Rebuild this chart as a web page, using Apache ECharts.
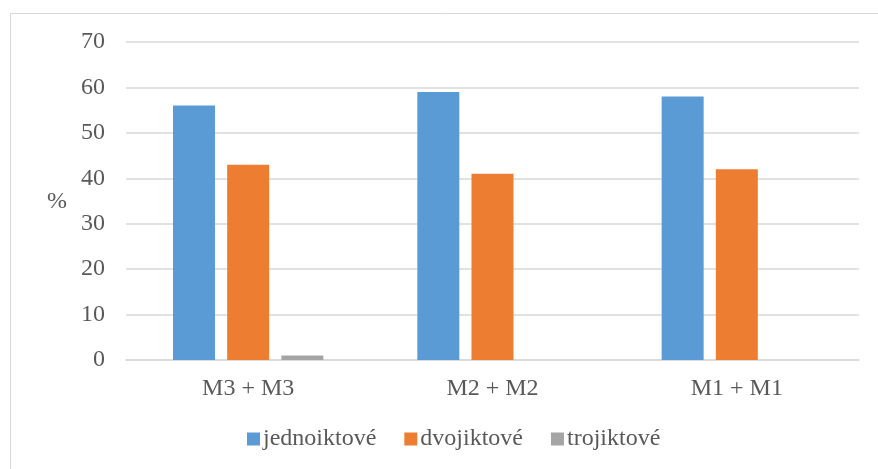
<!DOCTYPE html>
<html>
<head>
<meta charset="utf-8">
<script src="https://cdn.jsdelivr.net/npm/echarts@6/dist/echarts.min.js"></script>
<style>
  html, body { margin: 0; padding: 0; background: #ffffff; }
  #chart { width: 878px; height: 469px; }
</style>
</head>
<body>
<div id="chart"></div>
<script>
// Categories and series values (percent)
const categories = ['M3 + M3', 'M2 + M2', 'M1 + M1'];
const jednoiktove = [56, 59, 58];
const dvojiktove = [43, 41, 42];
const trojiktove = [1, 0, 0];
const seriesNames = ['jednoiktové', 'dvojiktové', 'trojiktové'];
const yTicks = { min: 0, max: 70, interval: 10 };

const textColor = '#595959';
const serif = 'Liberation Serif';
const fontSize = 24;

const chart = echarts.init(document.getElementById('chart'), null, { renderer: 'canvas' });

const barStyle = (color) => ({
  type: 'bar',
  barWidth: 42,
  barGap: '29%',
  itemStyle: { color: color },
  emphasis: { disabled: true }
});

chart.setOption({
  animation: false,
  backgroundColor: '#ffffff',
  graphic: [
    {
      type: 'rect',
      shape: { x: 10.5, y: 13.5, width: 900, height: 500 },
      style: { fill: 'none', stroke: '#d9d9d9', lineWidth: 1 },
      silent: true
    },
    {
      type: 'text',
      left: 47,
      top: 190,
      style: { text: '%', fontFamily: serif, fontSize: fontSize, fill: textColor }
    }
  ],
  grid: { left: 126, right: 19, top: 42, bottom: 109, containLabel: false },
  legend: {
    data: seriesNames,
    top: 427,
    left: 247,
    padding: 0,
    itemWidth: 13,
    itemHeight: 13,
    itemGap: 28,
    icon: 'rect',
    textStyle: { fontFamily: serif, fontSize: fontSize, color: textColor, padding: [0, 0, 0, -2] }
  },
  xAxis: {
    type: 'category',
    data: categories,
    axisLine: { lineStyle: { color: '#d9d9d9', width: 1.5 } },
    axisTick: { show: false },
    axisLabel: { fontFamily: serif, fontSize: fontSize, color: textColor, margin: 17 }
  },
  yAxis: {
    type: 'value',
    min: yTicks.min,
    max: yTicks.max,
    interval: yTicks.interval,
    axisLine: { show: false },
    axisTick: { show: false },
    splitLine: { lineStyle: { color: '#d9d9d9', width: 1.5 } },
    axisLabel: { fontFamily: serif, fontSize: fontSize, color: textColor, margin: 21 }
  },
  series: [
    Object.assign(barStyle('#5b9bd5'), { name: seriesNames[0], data: jednoiktove }),
    Object.assign(barStyle('#ed7d31'), { name: seriesNames[1], data: dvojiktove }),
    Object.assign(barStyle('#a5a5a5'), { name: seriesNames[2], data: trojiktove })
  ]
});
</script>
</body>
</html>
